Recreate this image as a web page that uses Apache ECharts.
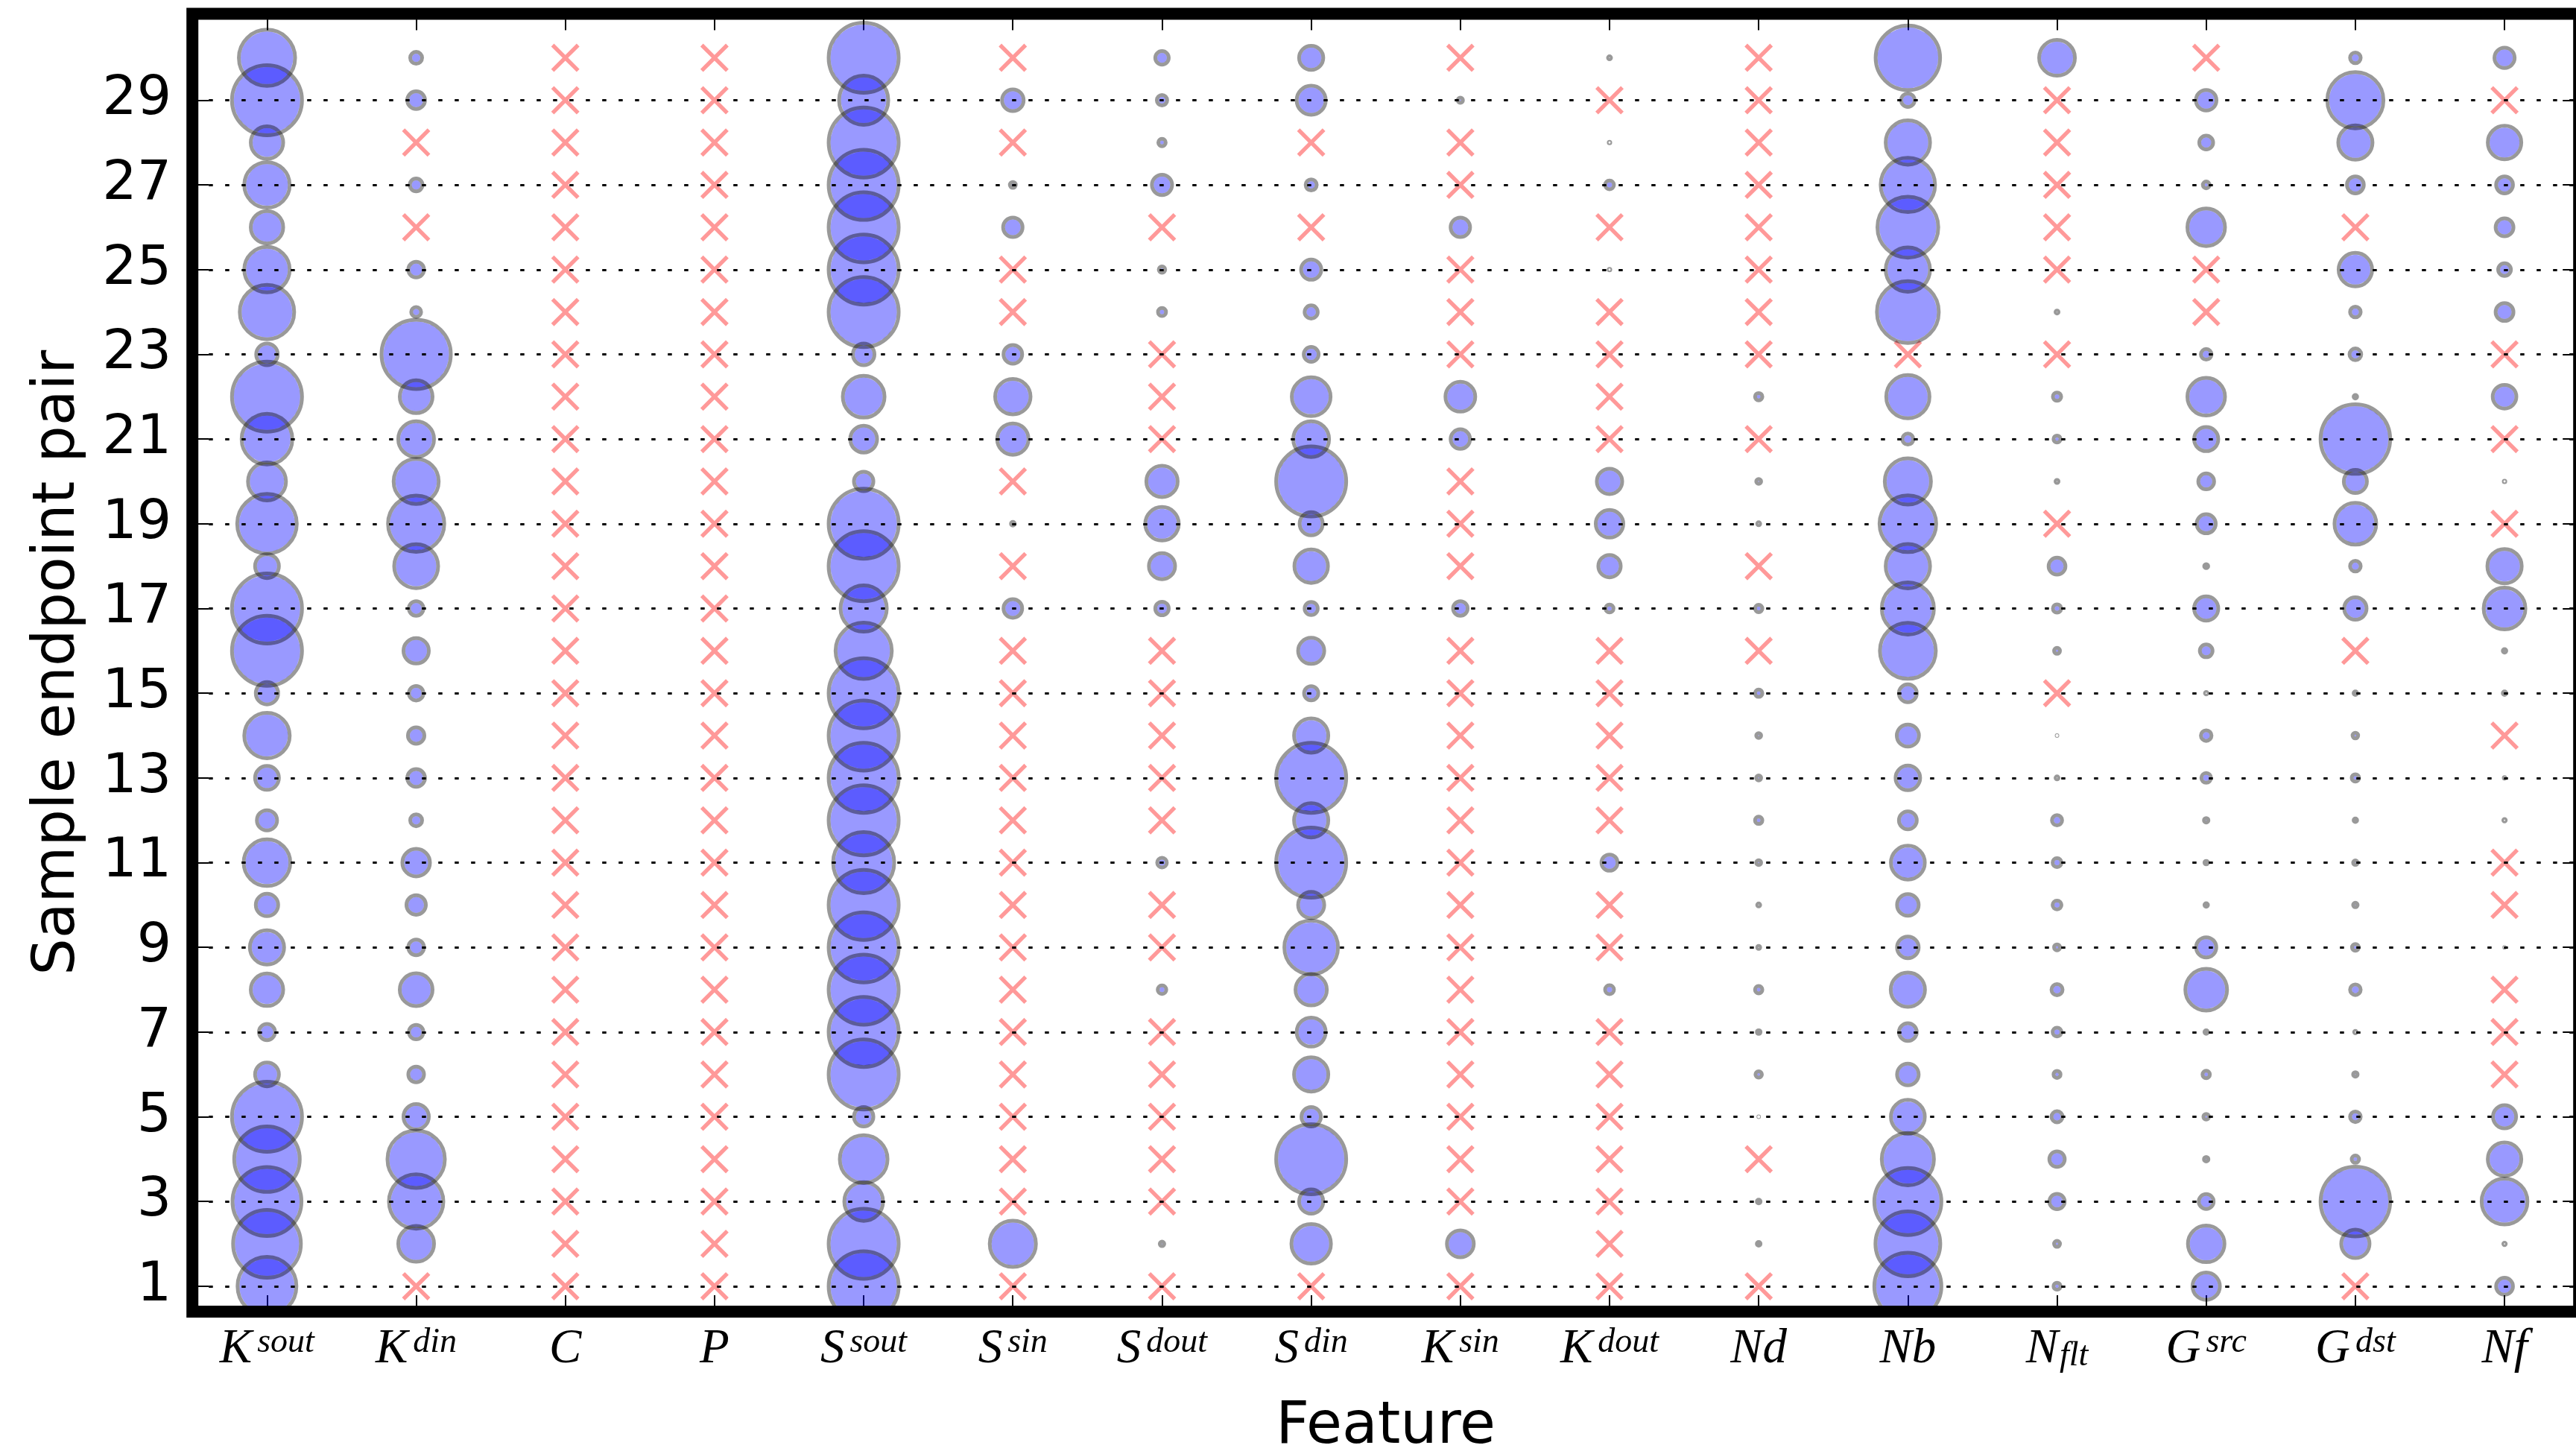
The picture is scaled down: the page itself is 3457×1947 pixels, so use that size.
<!DOCTYPE html>
<html>
<head>
<meta charset="utf-8">
<script src="https://cdn.jsdelivr.net/npm/echarts@6/dist/echarts.min.js"></script>
<style>
  html, body { margin: 0; padding: 0; background: #ffffff; }
  #chart { width: 3457px; height: 1947px; }
</style>
</head>
<body>
<div id="chart"></div>
<script>
// Sample endpoint pairs (y) and the odd pairs that carry tick labels
const pairs = [1, 2, 3, 4, 5, 6, 7, 8, 9, 10, 11, 12, 13, 14, 15,
               16, 17, 18, 19, 20, 21, 22, 23, 24, 25, 26, 27, 28, 29, 30];
const yTicks = [1, 3, 5, 7, 9, 11, 13, 15, 17, 19, 21, 23, 25, 27, 29];

// Feature names as rich text (base symbol + superscript / subscript)
const featureLabels = [
  '{m|K}{sup|sout}', '{m|K}{sup|din}', '{m|C}', '{m|P}',
  '{m|S}{sup|sout}', '{m|S}{sup|sin}', '{m|S}{sup|dout}', '{m|S}{sup|din}',
  '{m|K}{sup|sin}', '{m|K}{sup|dout}', '{m|Nd}', '{m|Nb}',
  '{m|N}{sub|flt}', '{m|G}{sup|src}', '{m|G}{sup|dst}', '{m|Nf}'
];

// Relative weight of each feature for pairs 1..30 (bubble area is proportional).
// null: feature absent for that pair, drawn as a cross.
const kSout = [0.706, 0.937, 0.970, 0.876, 1.000, 0.116, 0.053, 0.214, 0.239, 0.102,
               0.443, 0.083, 0.116, 0.421, 0.102, 1.000, 1.000, 0.116, 0.724, 0.294,
               0.523, 1.000, 0.095, 0.603, 0.421, 0.214, 0.421, 0.214, 1.000, 0.645];
const kDin  = [null, 0.261, 0.603, 0.671, 0.131, 0.050, 0.043, 0.219, 0.050, 0.077,
               0.155, 0.029, 0.064, 0.055, 0.043, 0.131, 0.043, 0.394, 0.645, 0.414,
               0.261, 0.219, 0.979, 0.020, 0.050, null, 0.033, null, 0.064, 0.029];
const cFeat = [null, null, null, null, null, null, null, null, null, null,
               null, null, null, null, null, null, null, null, null, null,
               null, null, null, null, null, null, null, null, null, null];
const pFeat = [null, null, null, null, null, null, null, null, null, null,
               null, null, null, null, null, null, null, null, null, null,
               null, null, null, null, null, null, null, null, null, null];
const sSout = [1.000, 1.000, 0.306, 0.464, 0.077, 1.000, 1.000, 1.000, 1.000, 1.000,
               0.761, 1.000, 1.000, 1.000, 1.000, 0.645, 0.435, 1.000, 1.000, 0.077,
               0.147, 0.355, 0.095, 1.000, 1.000, 1.000, 1.000, 1.000, 0.493, 1.000];
const sSin  = [null, 0.435, null, null, null, null, null, null, null, null,
               null, null, null, null, null, null, 0.071, null, 0.0028, null,
               0.200, 0.255, 0.071, null, null, 0.077, 0.0072, null, 0.095, null];
const sDout = [null, 0.0041, null, null, null, null, null, 0.015, null, null,
               0.019, null, null, null, null, null, 0.037, 0.139, 0.229, 0.200,
               null, null, null, 0.013, 0.0084, null, 0.083, 0.011, 0.022, 0.037];
const sDin  = [null, 0.318, 0.119, 1.000, 0.077, 0.239, 0.172, 0.200, 0.587, 0.139,
               1.000, 0.239, 1.000, 0.239, 0.041, 0.139, 0.035, 0.229, 0.109, 1.000,
               0.261, 0.306, 0.045, 0.035, 0.083, null, 0.025, null, 0.172, 0.119];
const kSin  = [null, 0.147, null, null, null, null, null, null, null, null,
               null, null, null, null, null, null, 0.043, null, null, null,
               0.077, 0.181, null, null, null, 0.077, null, null, 0.0055, null];
const kDout = [null, null, null, null, null, null, null, 0.016, null, null,
               0.053, null, null, null, null, null, 0.013, 0.102, 0.155, 0.131,
               null, null, null, null, 0.0005, null, 0.016, 0.0005, null, 0.0018];
const nd    = [null, 0.0028, 0.0028, null, 0.0001, 0.0084, 0.0028, 0.011, 0.0018, 0.0018,
               0.0049, 0.011, 0.0049, 0.0049, 0.011, null, 0.011, null, 0.0018, 0.0049,
               null, 0.011, null, null, null, null, null, null, null, null];
const nb    = [0.917, 0.857, 0.917, 0.555, 0.234, 0.095, 0.065, 0.239, 0.095, 0.095,
               0.234, 0.065, 0.123, 0.100, 0.065, 0.637, 0.555, 0.401, 0.654, 0.435,
               0.025, 0.381, null, 0.780, 0.401, 0.755, 0.603, 0.401, 0.037, 0.847];
const nFlt  = [0.010, 0.0072, 0.048, 0.048, 0.025, 0.010, 0.016, 0.025, 0.0072, 0.016,
               0.016, 0.021, 0.0018, 0.0001, null, 0.0072, 0.014, 0.058, null, 0.0018,
               0.010, 0.014, null, 0.0018, null, null, null, null, null, 0.261];
const gSrc  = [0.152, 0.272, 0.045, 0.0041, 0.0064, 0.011, 0.0025, 0.355, 0.083, 0.0025,
               0.0025, 0.0041, 0.019, 0.023, 0.0012, 0.033, 0.119, 0.0033, 0.074, 0.051,
               0.119, 0.288, 0.023, null, null, 0.288, 0.0092, 0.039, 0.086, null];
const gDst  = [null, 0.163, 0.988, 0.011, 0.023, 0.0041, 0.0012, 0.023, 0.0092, 0.0041,
               0.0041, 0.0025, 0.011, 0.0064, 0.0025, null, 0.102, 0.023, 0.355, 0.109,
               0.988, 0.0025, 0.028, 0.023, 0.229, null, 0.058, 0.239, 0.643, 0.023];
const nf    = [0.058, 0.0012, 0.428, 0.229, 0.109, null, null, null, 0.0001, null,
               null, 0.0012, 0.0005, null, 0.0025, 0.0025, 0.355, 0.240, null, 0.0005,
               null, 0.114, null, 0.065, 0.033, 0.065, 0.058, 0.229, null, 0.083];

const columns = [kSout, kDin, cFeat, pFeat, sSout, sSin, sDout, sDin,
                 kSin, kDout, nd, nb, nFlt, gSrc, gDst, nf];

// Split cells into bubbles (weight present) and crosses (absent)
const bubbles = [];
const crosses = [];
columns.forEach((col, fi) => {
  col.forEach((w, pi) => {
    if (w === null) crosses.push([fi, pairs[pi]]);
    else bubbles.push([fi, pairs[pi], w]);
  });
});

// Plot frame geometry (px)
const G = { left: 258.2, top: 18.5, width: 3203, height: 1741.5 };
const FRAME = 16;           // frame line thickness
const MAX_D = 94;           // bubble outline diameter at weight 1
const EDGE = 5;             // outline thickness
const CROSS = 'path://M10,0L50,40L90,0L100,10L60,50L100,90L90,100L50,60L10,100L0,90L40,50L0,10Z';

const tickStyle = { show: true, inside: true, length: 22, lineStyle: { color: '#000', width: 2 } };
const mathFont = { fontFamily: 'Liberation Serif', fontStyle: 'italic', color: '#000' };

const chart = echarts.init(document.getElementById('chart'), null, { renderer: 'canvas' });
chart.setOption({
  animation: false,
  backgroundColor: '#ffffff',
  grid: {
    left: G.left, top: G.top, width: G.width, height: G.height,
    containLabel: false, outerBoundsMode: 'none'
  },
  xAxis: [
    {
      type: 'category', data: featureLabels, position: 'bottom', boundaryGap: true,
      axisLine: { show: false },
      axisTick: Object.assign({ alignWithLabel: true }, tickStyle),
      splitLine: { show: false },
      axisLabel: {
        interval: 0, margin: 19, formatter: v => v,
        rich: {
          m:   Object.assign({ fontSize: 65, lineHeight: 64, verticalAlign: 'bottom' }, mathFont),
          sup: Object.assign({ fontSize: 46, lineHeight: 37, verticalAlign: 'top', padding: [0, 0, 0, 7] }, mathFont),
          sub: Object.assign({ fontSize: 46, lineHeight: 30, verticalAlign: 'bottom', padding: [0, 0, 0, 2] }, mathFont)
        }
      },
      name: 'Feature', nameLocation: 'middle', nameGap: 117,
      nameTextStyle: { fontFamily: 'DejaVu Sans', fontSize: 78, color: '#000' }
    },
    {
      type: 'category', data: featureLabels, position: 'top', boundaryGap: true,
      axisLine: { show: false },
      axisTick: Object.assign({ alignWithLabel: true }, tickStyle),
      axisLabel: { show: false }, splitLine: { show: false }
    }
  ],
  yAxis: [
    {
      type: 'value', min: 0.4, max: 31.04, position: 'left',
      axisLine: { show: false },
      axisTick: Object.assign({ customValues: yTicks }, tickStyle),
      splitLine: { show: false },
      axisLabel: {
        customValues: yTicks, margin: 28,
        fontFamily: 'DejaVu Sans', fontSize: 73, color: '#000'
      },
      name: 'Sample endpoint pair', nameLocation: 'middle', nameGap: 140,
      nameTextStyle: { fontFamily: 'DejaVu Sans', fontSize: 78, color: '#000' }
    },
    {
      type: 'value', min: 0.4, max: 31.04, position: 'right',
      axisLine: { show: false },
      axisTick: Object.assign({ customValues: yTicks }, tickStyle),
      axisLabel: { show: false }, splitLine: { show: false }
    }
  ],
  series: [
    {
      // dotted horizontal guides at the labelled pairs
      type: 'line', data: [], silent: true, z: 1,
      markLine: {
        silent: true, symbol: ['none', 'none'], label: { show: false },
        lineStyle: { color: '#000', width: 3, type: [5.5, 16.5] },
        data: yTicks.map(v => ({ yAxis: v }))
      }
    },
    {
      // translucent blue bubble bodies, kept inside their outlines
      type: 'scatter', name: 'present', data: bubbles, silent: true, z: 3,
      symbol: 'circle',
      symbolSize: d => Math.max(Math.sqrt(d[2]) * MAX_D - EDGE, 0),
      itemStyle: { color: 'rgba(0,0,255,0.5)', borderWidth: 0 }
    },
    {
      // translucent dark outlines of the bubbles
      type: 'scatter', name: 'present outline', data: bubbles, silent: true, z: 4,
      symbol: 'circle',
      symbolSize: d => Math.sqrt(d[2]) * MAX_D,
      itemStyle: { color: 'rgba(0,0,0,0)', borderColor: 'rgba(0,0,0,0.5)', borderWidth: EDGE }
    },
    {
      type: 'scatter', name: 'absent', data: crosses, silent: true, z: 3,
      symbol: CROSS, symbolSize: 38,
      itemStyle: { color: 'rgba(255,0,0,0.5)', borderWidth: 0 }
    }
  ],
  graphic: [
    {
      // trims bubbles that spill past the lower edge of the plot frame
      type: 'rect', z: 99, silent: true,
      shape: { x: G.left - FRAME / 2, y: G.top + G.height + FRAME / 2 - 1,
               width: G.width + FRAME, height: 10 },
      style: { fill: '#ffffff', stroke: 'none' }
    },
    {
      type: 'rect', z: 100, silent: true,
      shape: { x: G.left, y: G.top, width: G.width, height: G.height },
      style: { fill: 'none', stroke: '#000', lineWidth: FRAME }
    }
  ]
});
</script>
</body>
</html>
